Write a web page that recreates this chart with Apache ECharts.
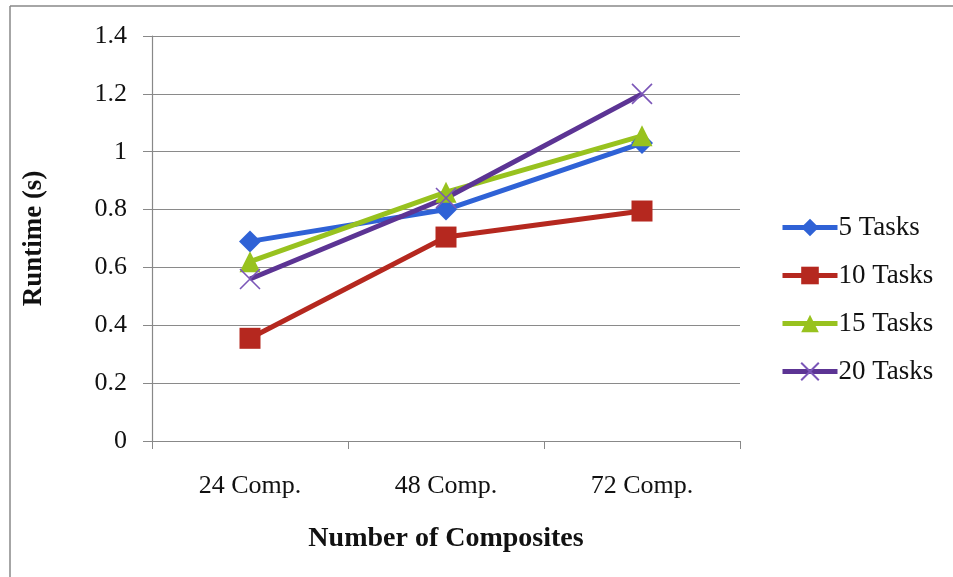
<!DOCTYPE html>
<html><head><meta charset="utf-8">
<script src="https://cdn.jsdelivr.net/npm/echarts@6/dist/echarts.min.js"></script>
<style>html,body{margin:0;padding:0;background:#fff}#c{width:953px;height:577px}</style>
</head><body><div id="c"></div>
<script>
const categories = ['24 Comp.', '48 Comp.', '72 Comp.'];
const tasks5 = [0.69, 0.80, 1.03];
const tasks10 = [0.355, 0.705, 0.795];
const tasks15 = [0.62, 0.86, 1.055];
const tasks20 = [0.56, 0.84, 1.20];
const seriesNames = ['5 Tasks', '10 Tasks', '15 Tasks', '20 Tasks'];

const FONT = '"Liberation Serif", "DejaVu Serif", serif';
const crossPath = 'path://M0,0L10,10M10,0L0,10';
const chart = echarts.init(document.getElementById('c'), null, {renderer: 'canvas'});
function mk(name, data, color, symbol, size, extra) {
  return Object.assign({
    name, type: 'line', data, symbol, symbolSize: size,
    lineStyle: {color, width: 5},
    itemStyle: {color, borderColor: color, borderWidth: 0},
    emphasis: {disabled: true}, animation: false
  }, extra || {});
}
chart.setOption({
  animation: false,
  textStyle: {fontFamily: FONT},
  graphic: [
    {type: 'line', shape: {x1: 10, y1: 6, x2: 953, y2: 6}, style: {stroke: '#888', lineWidth: 1.5}},
    {type: 'line', shape: {x1: 10, y1: 6, x2: 10, y2: 577}, style: {stroke: '#888', lineWidth: 1.5}}
  ],
  grid: {left: 152, right: 213, top: 36, bottom: 136, containLabel: false},
  legend: {
    orient: 'vertical', left: 780, top: 214, itemGap: 21, padding: 0,
    itemWidth: 55, itemHeight: 22,
    lineStyle: {width: 5},
    textStyle: {fontFamily: FONT, fontSize: 27, color: '#111', padding: [0, 0, 0, -4]},
    data: seriesNames
  },
  xAxis: {
    type: 'category', data: categories, boundaryGap: true,
    axisLine: {lineStyle: {color: '#888', width: 1.2}},
    axisTick: {show: true, length: 8, lineStyle: {color: '#888'}},
    axisLabel: {fontFamily: FONT, fontSize: 26, color: '#111', margin: 32},
    name: 'Number of Composites', nameLocation: 'middle', nameGap: 84,
    nameTextStyle: {fontFamily: FONT, fontSize: 28, fontWeight: 'bold', color: '#111'}
  },
  yAxis: {
    type: 'value', min: 0, max: 1.4, interval: 0.2,
    axisLine: {show: true, lineStyle: {color: '#888', width: 1.2}},
    axisTick: {show: true, length: 9, lineStyle: {color: '#888'}},
    axisLabel: {fontFamily: FONT, fontSize: 26, color: '#111', margin: 25,
      formatter: v => String(Math.round(v * 10) / 10)},
    splitLine: {lineStyle: {color: '#8a8a8a', width: 1.2}},
    name: 'Runtime (s)', nameLocation: 'middle', nameGap: 104, nameRotate: 90,
    nameTextStyle: {fontFamily: FONT, fontSize: 27, fontWeight: 'bold', color: '#111'}
  },
  series: [
    mk('5 Tasks', tasks5, '#2f62d6', 'diamond', 22),
    mk('10 Tasks', tasks10, '#b5281f', 'rect', 21),
    mk('15 Tasks', tasks15, '#98c21f', 'triangle', 21),
    mk('20 Tasks', tasks20, '#5c3494', crossPath, 20,
       {itemStyle: {color: '#5c3494', borderColor: '#7b56b8', borderWidth: 1.6}})
  ]
});
</script></body></html>
